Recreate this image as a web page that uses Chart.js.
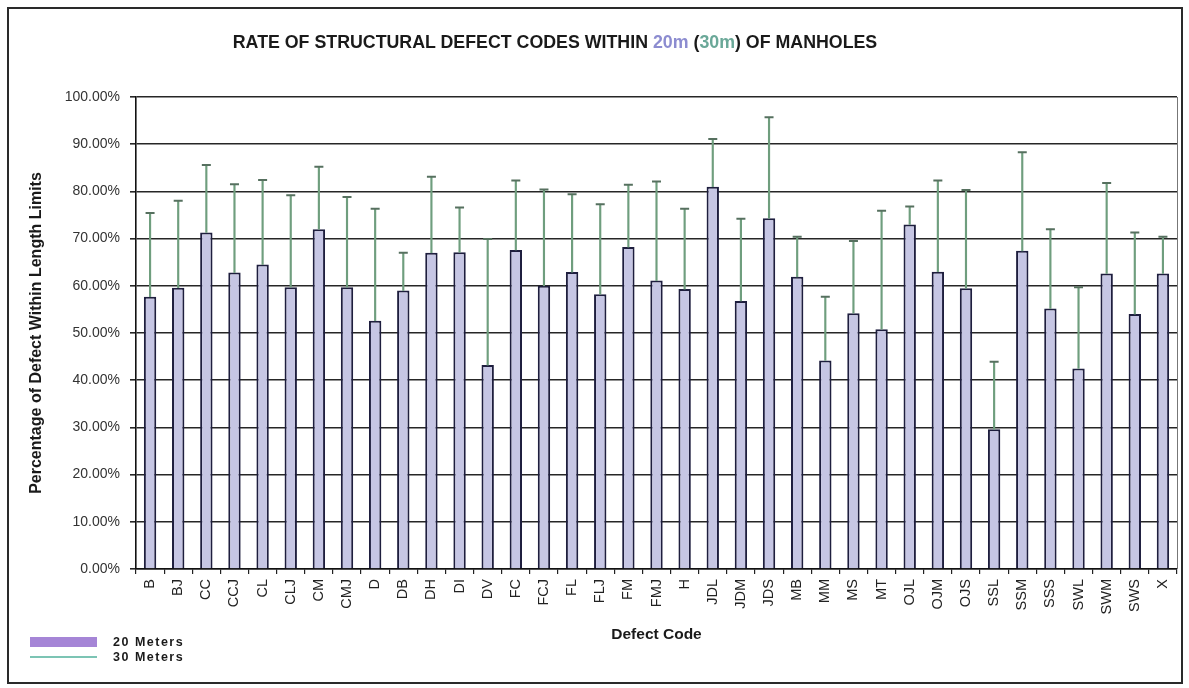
<!DOCTYPE html>
<html>
<head>
<meta charset="utf-8">
<script src="https://cdn.jsdelivr.net/npm/chart.js@4.4.1/dist/chart.umd.min.js"></script>
<style>
    body { margin: 0; background: #fff; }
    #wrap { position: relative; width: 1189px; height: 688px; overflow: hidden; font-family: 'Liberation Sans', Arial, sans-serif; color: #1a1a1a; }
    #frame { position: absolute; left: 7px; top: 7px; width: 1172px; height: 673px; border: 2px solid #2a2a2a; }
    #title { position: absolute; left: 0; top: 32px; width: 1110px; text-align: center; font-weight: bold; font-size: 17.8px; }
    #title .m20 { color: #8c8cd0; }
    #title .m30 { color: #6aa898; }
    .swatch { position: absolute; left: 30px; width: 67px; }
    .legtext { position: absolute; left: 113px; font-weight: bold; font-size: 12.5px; letter-spacing: 1.5px; line-height: 15px; }
    canvas { position: absolute; left: 0; top: 0; }
</style>
</head>
<body>
<div id="wrap">
    <div id="frame"></div>
    <canvas id="defectChart" width="1189" height="688"></canvas>
    <div id="title">RATE OF STRUCTURAL DEFECT CODES WITHIN <span class="m20">20m</span> (<span class="m30">30m</span>) OF MANHOLES</div>
    <div class="swatch" style="top:637px;height:10px;background:#a585d6;"></div>
    <div class="legtext" style="top:635px;">20 Meters</div>
    <div class="swatch" style="top:656px;height:2px;background:#7cc4b4;"></div>
    <div class="legtext" style="top:650px;">30 Meters</div>
</div>
<script>
// defect codes along the x axis
const defectCodes = ['B', 'BJ', 'CC', 'CCJ', 'CL', 'CLJ', 'CM', 'CMJ', 'D', 'DB', 'DH', 'DI', 'DV', 'FC', 'FCJ', 'FL', 'FLJ', 'FM', 'FMJ', 'H',
    'JDL', 'JDM', 'JDS', 'MB', 'MM', 'MS', 'MT', 'OJL', 'OJM', 'OJS', 'SSL', 'SSM', 'SSS', 'SWL', 'SWM', 'SWS', 'X'];

// % of defects within 20 m of a manhole (bars)
const within20m = [57.7, 59.6, 71.3, 62.8, 64.5, 59.7, 72.0, 59.7, 52.6, 59.0, 67.0, 67.1, 43.2, 67.6, 60.0, 62.9, 58.2, 68.2, 61.1, 59.3,
    81.0, 56.8, 74.3, 61.9, 44.2, 54.2, 50.8, 73.0, 63.0, 59.5, 29.6, 67.4, 55.2, 42.5, 62.6, 54.0, 62.6];

// % of defects within 30 m (top of the whiskers)
const within30m = [75.4, 78.0, 85.6, 81.5, 82.4, 79.2, 85.2, 78.8, 76.3, 67.0, 83.1, 76.6, 69.9, 82.3, 80.4, 79.4, 77.3, 81.4, 82.1, 76.3,
    91.1, 74.2, 95.7, 70.4, 57.7, 69.5, 75.9, 76.8, 82.3, 80.3, 43.9, 88.3, 72.0, 59.7, 81.8, 71.3, 70.4];

const yTicks = [0, 10, 20, 30, 40, 50, 60, 70, 80, 90, 100];

const fontFamily = "'Liberation Sans', Arial, sans-serif";

const whiskers = within20m.map(function (v, i) {
    return [v, within30m[i]];
});

// thin right-hand frame of the plot area
const areaBorder = {
    id: 'areaBorder',
    afterDraw: function (chart) {
        const a = chart.chartArea;
        const ctx = chart.ctx;
        ctx.save();
        ctx.strokeStyle = '#777';
        ctx.lineWidth = 1;
        ctx.beginPath();
        ctx.moveTo(a.right + 0.5, a.top);
        ctx.lineTo(a.right + 0.5, a.bottom);
        ctx.stroke();
        ctx.restore();
    }
};

new Chart(document.getElementById('defectChart'), {
    type: 'bar',
    data: {
        labels: defectCodes,
        datasets: [{
            label: '30 Meters caps',
            type: 'line',
            data: within30m,
            showLine: false,
            pointStyle: 'line',
            pointRadius: 4.5,
            borderColor: '#56705f',
            borderWidth: 2,
            order: 0
        }, {
            label: '30 Meters',
            data: whiskers,
            grouped: false,
            barThickness: 1.5,
            backgroundColor: '#6f9e7e',
            borderWidth: 0,
            order: 1
        }, {
            label: '20 Meters',
            data: within20m,
            backgroundColor: '#c6c6e4',
            borderColor: '#1e1e3e',
            borderWidth: 2,
            barPercentage: 0.44,
            categoryPercentage: 1,
            order: 2
        }]
    },
    options: {
        responsive: false,
        animation: false,
        layout: {
            padding: { left: 23, top: 97, right: 12, bottom: 40 }
        },
        plugins: {
            legend: { display: false },
            tooltip: { enabled: false }
        },
        scales: {
            x: {
                afterFit: function (scale) { scale.height = 79; },
                grid: {
                    drawOnChartArea: false,
                    drawTicks: true,
                    tickLength: 5,
                    color: '#222',
                    lineWidth: 1.2
                },
                border: { color: '#111', width: 1.6 },
                ticks: {
                    autoSkip: false,
                    minRotation: 90,
                    maxRotation: 90,
                    padding: 5,
                    color: '#222',
                    font: { family: fontFamily, size: 14.5 }
                },
                title: {
                    display: true,
                    text: 'Defect Code',
                    color: '#1a1a1a',
                    font: { family: fontFamily, size: 15.5, weight: 'bold', lineHeight: 1.2 }
                }
            },
            y: {
                min: 0,
                max: 100,
                afterFit: function (scale) { scale.width = 113; },
                afterBuildTicks: function (scale) {
                    scale.ticks = yTicks.map(function (v) { return { value: v }; });
                },
                grid: {
                    color: '#262626',
                    lineWidth: 1.6,
                    tickLength: 6
                },
                border: { color: '#111', width: 1.6 },
                ticks: {
                    padding: 10,
                    color: '#333',
                    font: { family: fontFamily, size: 14 },
                    callback: function (value) {
                        return value.toFixed(2) + '%';
                    }
                },
                title: {
                    display: true,
                    text: 'Percentage of Defect Within Length Limits',
                    color: '#1a1a1a',
                    font: { family: fontFamily, size: 16, weight: 'bold', lineHeight: 1.2 }
                }
            }
        }
    },
    plugins: [areaBorder]
});
</script>
</body>
</html>
